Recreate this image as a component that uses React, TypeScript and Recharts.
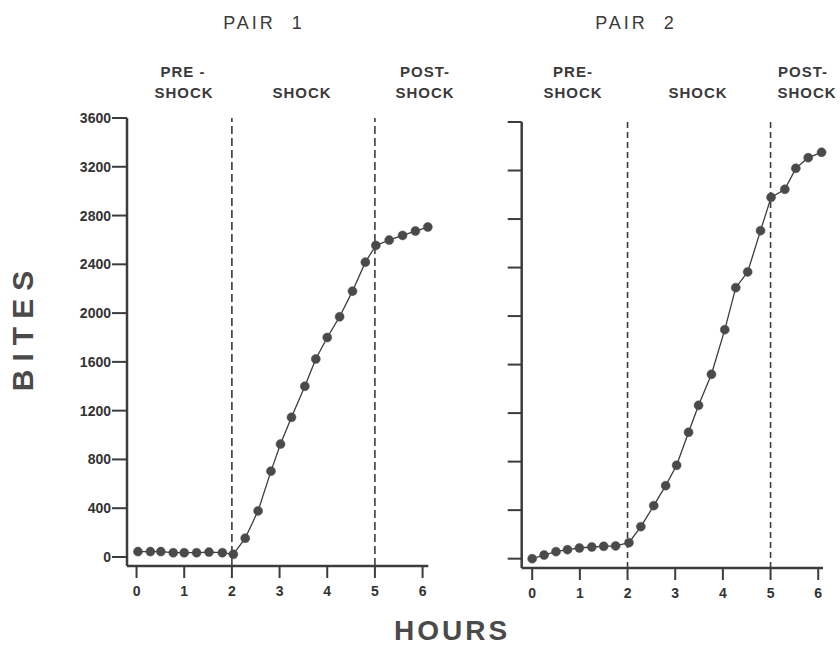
import React from 'react';
import { LineChart, Line, XAxis, YAxis, ReferenceLine } from 'recharts';

const pair1Hours = [0.03, 0.29, 0.51, 0.77, 1.0, 1.26, 1.52, 1.8, 2.03, 2.28, 2.55, 2.82, 3.02, 3.25, 3.53, 3.76, 4.0, 4.26, 4.53, 4.8, 5.02, 5.3, 5.58, 5.85, 6.11];
const pair1Bites = [44, 44, 44, 35, 35, 35, 40, 35, 22, 154, 378, 704, 926, 1145, 1400, 1624, 1800, 1970, 2180, 2418, 2555, 2599, 2637, 2673, 2706];

const pair2Hours = [0, 0.25, 0.5, 0.74, 0.99, 1.25, 1.5, 1.75, 2.03, 2.28, 2.55, 2.8, 3.03, 3.28, 3.49, 3.76, 4.04, 4.27, 4.52, 4.79, 5.01, 5.3, 5.53, 5.79, 6.07];
const pair2Bites = [0, 30, 58, 74, 88, 96, 102, 105, 132, 264, 437, 602, 770, 1042, 1264, 1520, 1888, 2234, 2364, 2704, 2979, 3045, 3218, 3306, 3350];

const hourTicks = [0, 1, 2, 3, 4, 5, 6];
const biteTicks = [0, 400, 800, 1200, 1600, 2000, 2400, 2800, 3200, 3600];
const phaseBounds = [2, 5];
const pairTitles = ['PAIR 1', 'PAIR 2'];
const yTitle = 'BITES';
const xTitle = 'HOURS';

const toRows = (h: number[], b: number[]) => h.map((x, i) => ({ hour: x, bites: b[i] }));
const pair1 = toRows(pair1Hours, pair1Bites);
const pair2 = toRows(pair2Hours, pair2Bites);

const INK = '#3c3c3c';
const FONT = '"Liberation Sans", Arial, sans-serif';

type PanelProps = {
  data: { hour: number; bites: number }[];
  margin: { top: number; right: number; bottom: number; left: number };
  xDomain: [number, number];
  yDomain: [number, number];
  showYLabels: boolean;
  dash: string;
  ySize: number;
};

function Panel({ data, margin, xDomain, yDomain, showYLabels, dash, ySize }: PanelProps) {
  return (
    <div style={{ position: 'absolute', left: 0, top: 0 }}>
      <LineChart width={840} height={647} data={data} margin={margin}>
        <XAxis
          dataKey="hour"
          type="number"
          domain={xDomain}
          ticks={hourTicks}
          interval={0}
          height={30}
          tickSize={12}
          tickMargin={8}
          axisLine={{ stroke: INK, strokeWidth: 2.5 }}
          tickLine={{ stroke: INK, strokeWidth: 2 }}
          tick={{ fill: '#333', fontSize: 14, fontFamily: FONT, fontWeight: 600 }}
        />
        <YAxis
          dataKey="bites"
          type="number"
          domain={yDomain}
          ticks={biteTicks}
          interval={0}
          width={60}
          tickSize={ySize}
          tickMargin={1}
          axisLine={{ stroke: INK, strokeWidth: 2.5 }}
          tickLine={{ stroke: INK, strokeWidth: 2 }}
          tickFormatter={(v: number) => (showYLabels ? String(v) : '')}
          tick={{ fill: '#333', fontSize: 14, fontFamily: FONT, fontWeight: 600 }}
        />
        {phaseBounds.map((b) => (
          <ReferenceLine key={b} x={b} stroke={INK} strokeWidth={1.6} strokeDasharray={dash} />
        ))}
        <Line
          dataKey="bites"
          type="linear"
          stroke={INK}
          strokeWidth={1.3}
          isAnimationActive={false}
          dot={{ r: 4.5, fill: '#4a4a4a', stroke: '#4a4a4a', strokeWidth: 0.5 }}
        />
      </LineChart>
    </div>
  );
}

export default function App() {
  const sub = { fontSize: 15, fontWeight: 600, letterSpacing: 1, fill: '#3a3a3a', fontFamily: FONT, textAnchor: 'middle' as const };
  const title = { fontSize: 18, letterSpacing: 3, wordSpacing: 8, fill: '#3a3a3a', fontFamily: FONT, textAnchor: 'middle' as const };
  return (
    <div style={{ position: 'absolute', left: 0, top: 0, width: 840, height: 647, background: '#fff', overflow: 'hidden' }}>
      <Panel
        data={pair1}
        margin={{ top: 118, right: 411.7, bottom: 51, left: 67 }}
        xDomain={[-0.2, 6.12]}
        yDomain={[-74, 3600]}
        showYLabels={true}
        dash="8 4"
        ySize={15}
      />
      <Panel
        data={pair2}
        margin={{ top: 122, right: 17, bottom: 49, left: 461.7 }}
        xDomain={[-0.22, 6.1]}
        yDomain={[-77, 3600]}
        showYLabels={false}
        dash="6 4"
        ySize={14}
      />
      <svg width={840} height={647} style={{ position: 'absolute', left: 0, top: 0, pointerEvents: 'none' }}>
        <text x={264} y={29} {...title}>{pairTitles[0]}</text>
        <text x={636} y={29} {...title}>{pairTitles[1]}</text>

        <text x={183} y={77} {...sub}>PRE -</text>
        <text x={184} y={98} {...sub}>SHOCK</text>
        <text x={302} y={98} {...sub}>SHOCK</text>
        <text x={425} y={77} {...sub}>POST-</text>
        <text x={425} y={98} {...sub}>SHOCK</text>

        <text x={573} y={77} {...sub}>PRE-</text>
        <text x={573} y={98} {...sub}>SHOCK</text>
        <text x={698} y={98} {...sub}>SHOCK</text>
        <text x={803} y={77} {...sub}>POST-</text>
        <text x={807} y={98} {...sub}>SHOCK</text>

        <text
          x={0}
          y={0}
          transform="translate(33 327) rotate(-90)"
          style={{ fontSize: 30, fontWeight: 600, letterSpacing: 8, fill: '#4a4a4a', fontFamily: FONT }}
          textAnchor="middle"
        >
          {yTitle}
        </text>
        <text
          x={452}
          y={640}
          style={{ fontSize: 28, fontWeight: 600, letterSpacing: 3, fill: '#4a4a4a', fontFamily: FONT }}
          textAnchor="middle"
        >
          {xTitle}
        </text>
      </svg>
    </div>
  );
}
